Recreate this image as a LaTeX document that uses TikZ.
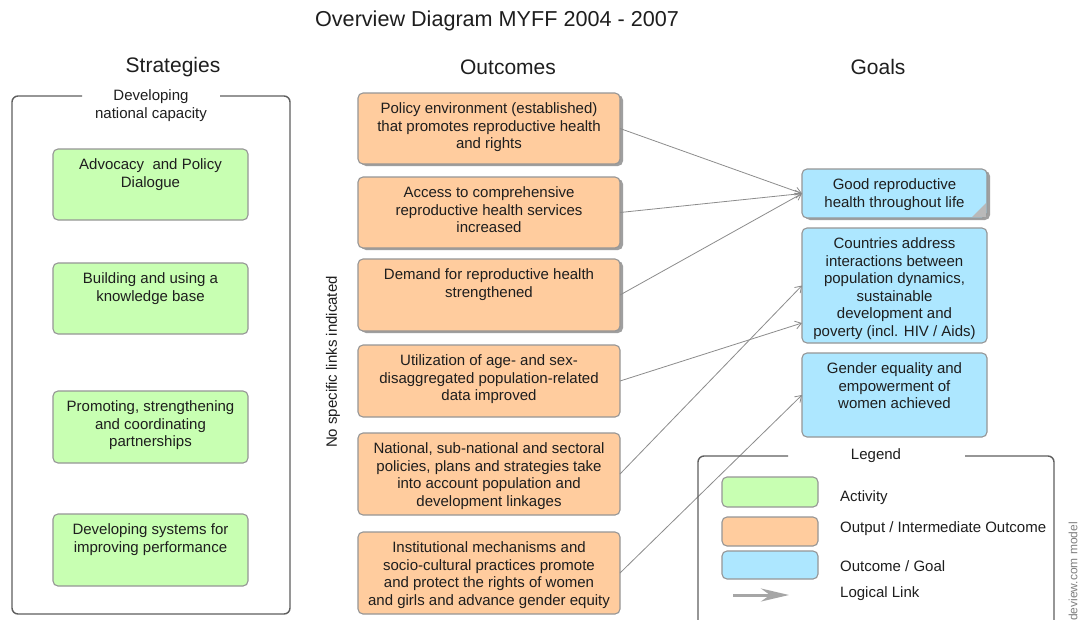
\documentclass[tikz,border=0pt]{standalone}
\usepackage{fontspec}
\setmainfont{Liberation Sans}
\usetikzlibrary{arrows.meta,calc,shadows}
\definecolor{grn}{RGB}{200,255,178}
\definecolor{org}{RGB}{255,204,158}
\definecolor{blu}{RGB}{173,231,255}
\definecolor{bline}{RGB}{150,150,150}
\definecolor{fline}{RGB}{95,95,95}
\definecolor{txt}{RGB}{30,30,30}
\definecolor{lnk}{RGB}{140,140,140}
\newcommand{\mytl}[1]{\rule{0pt}{20.5pt}\makebox[0pt]{\begin{tabular}[t]{@{}c@{}}#1\end{tabular}}}
\newcommand{\mybox}[7]{\node[#6,anchor=north west] (#1) at (#2,#3) {\parbox[c][#5pt][t]{#4pt}{\centering\mytl{#7}}};}
\begin{document}
\begin{tikzpicture}[x=1pt,y=-1pt,
  base/.style={draw=bline,line width=1.1pt,rounded corners=5pt,inner sep=0pt,outer sep=0pt,text=txt,font=\fontsize{15}{17.5}\selectfont},
  act/.style={base,fill=grn},
  outc/.style={base,fill=org},
  goal/.style={base,fill=blu},
  shad/.style={drop shadow={shadow xshift=3pt,shadow yshift=-2pt,fill=gray!75,opacity=1}},
  link/.style={draw=lnk,line width=0.8pt,-{Straight Barb[length=6pt,width=8pt]}},
  lbl/.style={text=txt,font=\fontsize{15}{17.5}\selectfont,inner sep=0pt},
  head/.style={text=txt,font=\fontsize{21}{25}\selectfont,inner sep=0pt},
  frame/.style={draw=fline,line width=1.4pt,rounded corners=6pt}]
\useasboundingbox (0,0) rectangle (1079,619);
\clip (0,0) rectangle (1079,619);
\fill[white] (0,0) rectangle (1079,619);

% titles
\node[head,font=\fontsize{21.6}{25}\selectfont] (title) at (497,21) {Overview Diagram MYFF 2004 - 2007};
\node[head] (hstrat) at (173,67) {Strategies};
\node[head] (hout) at (508,67) {Outcomes};
\node[head] (hgoal) at (878,67) {Goals};

% strategies frame
\draw[frame] (82,96) -- (12,96) -- (12,614) -- (290,614) -- (290,96) -- (220,96);
\node[lbl,align=center] (dnc) at (151,105.5) {Developing\\national capacity};

% activities
\mybox{s1}{53}{149}{195}{71}{act}{Advocacy\ \ and Policy\\Dialogue}
\mybox{s2}{53}{263}{195}{71}{act}{Building and using a\\knowledge base}
\mybox{s3}{53}{391}{195}{72}{act}{Promoting, strengthening\\and coordinating\\partnerships}
\mybox{s4}{53}{514}{195}{72}{act}{Developing systems for\\improving performance}

% note
\node[lbl,rotate=90] (nsl) at (333,362) {No specific links indicated};

% outputs
\mybox{o1}{358}{93}{262}{71}{outc,shad}{Policy environment (established)\\that promotes reproductive health\\and rights}
\mybox{o2}{358}{177}{262}{71}{outc,shad}{Access to comprehensive\\reproductive health services\\increased}
\mybox{o3}{358}{259}{262}{72}{outc,shad}{Demand for reproductive health\\strengthened}
\mybox{o4}{358}{345}{262}{72}{outc}{Utilization of age- and sex-\\disaggregated population-related\\data improved}
\mybox{o5}{358}{433}{262}{82}{outc}{National, sub-national and sectoral\\policies, plans and strategies take\\into account population and\\development linkages}
\mybox{o6}{358}{532}{262}{82}{outc}{Institutional mechanisms and\\socio-cultural practices promote\\and protect the rights of women\\and girls and advance gender equity}

% goals
\mybox{g1}{802}{169}{185}{49}{goal,shad}{Good reproductive\\health throughout life}
\fill[gray!55] ($(g1.south east)+(-15,-1)$) -- ($(g1.south east)+(-1,-15)$) -- ($(g1.south east)+(-1,-1)$) -- cycle;
\mybox{g2}{802}{228}{185}{115}{goal}{Countries address\\interactions between\\population dynamics,\\sustainable\\development and\\poverty (incl. HIV / Aids)}
\mybox{g3}{802}{353}{185}{84}{goal}{Gender equality and\\empowerment of\\women achieved}

% links
\draw[link] (o1.east) -- (g1.west);
\draw[link] (o2.east) -- (g1.west);
\draw[link] (o3.east) -- (g1.west);
\draw[link] (o4.east) -- ($(g2.south west)+(0,-20)$);
\draw[link] (o5.east) -- (g2.west);
\draw[link] (o6.east) -- (g3.west);

% legend
\draw[frame] (788,456) -- (698,456) -- (698,640) -- (1054,640) -- (1054,456) -- (965,456);
\node[lbl] (legt) at (876,456) {Legend};
\node[base,fill=grn,anchor=north west,minimum width=96pt,minimum height=30pt] (lg1) at (722,477) {};
\node[base,fill=org,anchor=north west,minimum width=96pt,minimum height=29pt] (lg2) at (722,517) {};
\node[base,fill=blu,anchor=north west,minimum width=96pt,minimum height=28pt] (lg3) at (722,551) {};
\node[lbl,anchor=west] (lt1) at (840,498) {Activity};
\node[lbl,anchor=west] (lt2) at (840,529) {Output / Intermediate Outcome};
\node[lbl,anchor=west] (lt3) at (840,566) {Outcome / Goal};
\node[lbl,anchor=west] (lt4) at (840,594) {Logical Link};
\coordinate (la1) at (733,595);
\coordinate (la2) at (789,595);
\draw[draw=gray!70,line width=3pt,-{Stealth[length=28pt,width=13pt,inset=9pt,fill=gray!70]}] (la1) -- (la2);

% watermark
\node[rotate=90,anchor=west,inner sep=0pt,font=\fontsize{12}{14}\selectfont,text=gray] (wm) at (1073,621) {deview.com model};
\end{tikzpicture}
\end{document}
